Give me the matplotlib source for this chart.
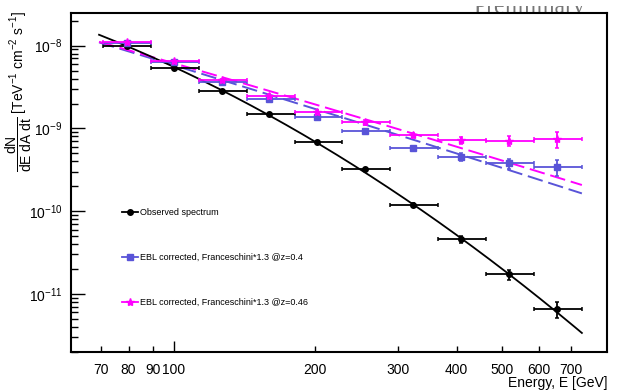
import numpy as np
import matplotlib
matplotlib.use("Agg")
import matplotlib.pyplot as plt
from matplotlib.ticker import FixedLocator, FuncFormatter, LogLocator, NullFormatter
from matplotlib.lines import Line2D
from matplotlib.transforms import Bbox, TransformedBbox

plt.rcParams['font.family'] = ['Liberation Sans', 'DejaVu Sans']
plt.rcParams['mathtext.fontset'] = 'custom'
plt.rcParams['mathtext.rm'] = 'Liberation Sans'
plt.rcParams['mathtext.it'] = 'Liberation Sans:italic'
plt.rcParams['mathtext.bf'] = 'Liberation Sans:bold'

# -----------------------------
# spectrum data
# -----------------------------
energy = [79.4, 100.0, 126.6, 159.4, 201.8, 255.5, 323.3, 409.3, 518.0, 655.6]
bin_lo = [70.6, 89.3, 113.1, 143.1, 181.1, 228.1, 288.8, 365.5, 462.6, 585.6]
bin_hi = [89.3, 113.1, 143.1, 181.1, 228.1, 288.8, 365.5, 462.6, 585.6, 741.3]

flux_obs = [9.97e-9, 5.41e-9, 2.85e-9, 1.49e-9, 6.90e-10, 3.20e-10,
            1.186e-10, 4.60e-11, 1.725e-11, 6.52e-12]
flux_z040 = [1.084e-8, 6.28e-9, 3.66e-9, 2.245e-9, 1.36e-9, 9.22e-10,
             5.79e-10, 4.55e-10, 3.79e-10, 3.44e-10]
flux_z046 = [1.105e-8, 6.46e-9, 3.84e-9, 2.48e-9, 1.59e-9, 1.184e-9,
             8.25e-10, 7.24e-10, 7.10e-10, 7.50e-10]

# relative flux errors
relerr_obs = [0.02, 0.02, 0.02, 0.03, 0.03, 0.04, 0.06, 0.10, 0.14, 0.22]
relerr_z040 = [0.03, 0.03, 0.03, 0.04, 0.04, 0.06, 0.07, 0.10, 0.14, 0.22]
relerr_z046 = [0.03, 0.03, 0.03, 0.04, 0.05, 0.06, 0.07, 0.10, 0.14, 0.22]

# log-parabola fits: log10 F = a + b*u + c*u^2, u = log10(E/100 GeV)
fit_obs = (-8.258, -2.634, -1.222)
fit_z040 = (-8.237, -1.740, -0.047)
fit_z046 = (-8.2125, -1.633, -0.068)
fit_range = (69.2, 740.0)

labels = ["Observed spectrum",
          "EBL corrected, Franceschini*1.3 @z=0.4",
          "EBL corrected, Franceschini*1.3 @z=0.46"]

x_ticks_major = [100]
x_ticks_minor = [70, 80, 90, 200, 300, 400, 500, 600, 700]

BLUE = '#5954d8'
MAGENTA = '#ff00ff'

# -----------------------------
# plot
# -----------------------------
fig = plt.figure(figsize=(6.2, 3.91), dpi=100)
ax = fig.add_axes([0.1145, 0.0997, 0.8645, 0.867])
ax.set_xscale('log')
ax.set_yscale('log')

E = np.array(energy)
xerr = [E - np.array(bin_lo), np.array(bin_hi) - E]


def logparab(e, p):
    u = np.log10(e / 100.0)
    return 10 ** (p[0] + p[1] * u + p[2] * u ** 2)


e_line = np.logspace(np.log10(fit_range[0]), np.log10(fit_range[1]), 200)
ax.plot(e_line, logparab(e_line, fit_z040), color=BLUE, lw=1.4, dashes=(8, 3), zorder=2)
ax.plot(e_line, logparab(e_line, fit_z046), color=MAGENTA, lw=1.4, dashes=(8, 3), zorder=2)
ax.plot(e_line, logparab(e_line, fit_obs), color='black', lw=1.3, zorder=2)

series = [
    (flux_obs, relerr_obs, 'black', 'o', 4.0),
    (flux_z040, relerr_z040, BLUE, 's', 4.5),
    (flux_z046, relerr_z046, MAGENTA, '*', 6.0),
]
for flux, rel, col, mk, ms in series:
    F = np.array(flux)
    ax.errorbar(E, F, xerr=xerr, yerr=F * np.array(rel), fmt=mk, color=col,
                ms=ms, elinewidth=1.3, capsize=1.5, capthick=1.1, zorder=3)

ax.set_xlim(60.3, 837)
ax.set_ylim(1.99e-12, 2.48e-8)

# ticks
ax.xaxis.set_major_locator(FixedLocator(x_ticks_major))
ax.xaxis.set_minor_locator(FixedLocator(x_ticks_minor))
fmt = FuncFormatter(lambda v, pos: "%d" % round(v))
ax.xaxis.set_major_formatter(fmt)
ax.xaxis.set_minor_formatter(fmt)
ax.yaxis.set_major_locator(LogLocator(base=10, numticks=20))
ax.yaxis.set_minor_locator(LogLocator(base=10, subs=np.arange(2, 10), numticks=20))
ax.yaxis.set_minor_formatter(NullFormatter())

ax.tick_params(which='both', direction='in', top=False, right=False, labelsize=10, width=1.0)
ax.tick_params(axis='y', which='major', length=10, pad=6)
ax.tick_params(axis='y', which='minor', length=5)
ax.tick_params(axis='x', which='major', length=8, pad=8)
ax.tick_params(axis='x', which='minor', length=4.5, pad=8)

for spine in ax.spines.values():
    spine.set_linewidth(1.5)

# axis titles
fig.text(607 / 620, 1 - 383 / 391, "Energy, E [GeV]", ha='right', va='center', fontsize=10)
fig.text(19 / 620, 1 - 92 / 391,
         r'$\dfrac{\mathrm{dN}}{\mathrm{dE\ dA\ dt}}$ [TeV$^{-1}$ cm$^{-2}$ s$^{-1}$]',
         rotation=90, ha='center', va='center', fontsize=10)

# watermark, cut by the top edge
prelim = fig.text(473 / 620, 1 - 13.5 / 391, "Preliminary", ha='left', va='baseline',
                  fontsize=17, color='#777777', family='Liberation Serif', zorder=-1)
prelim.set_clip_box(TransformedBbox(Bbox([[0, 0], [1, 1 - 6 / 391]]), fig.transFigure))
prelim.set_clip_on(True)

# legend
handles = [
    Line2D([], [], color='black', marker='o', ms=4, lw=1.3),
    Line2D([], [], color=BLUE, marker='s', ms=4.5, lw=1.3),
    Line2D([], [], color=MAGENTA, marker='*', ms=6, lw=1.3),
]
ax.legend(handles, labels, loc='upper left', bbox_to_anchor=(0.0951, 0.425),
          frameon=False, fontsize=6.5, labelspacing=4.0, handlelength=1.8,
          handletextpad=0.25, borderpad=0, borderaxespad=0)

fig.savefig("out.png", dpi=100)
